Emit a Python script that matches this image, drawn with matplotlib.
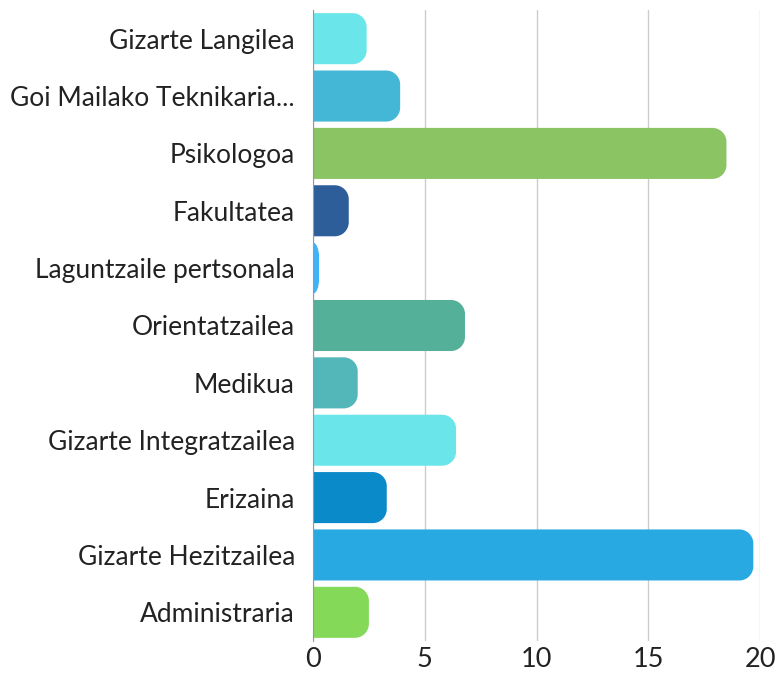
import matplotlib.pyplot as plt
from matplotlib.path import Path
from matplotlib.patches import PathPatch

labels = ["Gizarte Langilea", "Goi Mailako Teknikaria...", "Psikologoa", "Fakultatea",
          "Laguntzaile pertsonala", "Orientatzailea", "Medikua", "Gizarte Integratzailea",
          "Erizaina", "Gizarte Hezitzailea", "Administraria"]
values = [2.4, 3.9, 18.5, 1.6, 0.27, 6.8, 2.0, 6.4, 3.3, 19.7, 2.5]
colors = ["#6ae6ea", "#44b7d6", "#8bc462", "#2e5e9a", "#3fb3f7", "#55b09a",
          "#53b6b8", "#6ae5ea", "#0a8ac8", "#29a9e1", "#84d958"]

plt.rcParams['font.family'] = ['Lato', 'DejaVu Sans']

W, H = 777, 675
fig = plt.figure(figsize=(W / 100, H / 100), dpi=100)
left, right, top, bottom = 313, 760, 10, 641
ax = fig.add_axes([left / W, 1 - bottom / H, (right - left) / W, (bottom - top) / H])
ax.set_xlim(0, 20)
ax.set_ylim(len(labels) - 0.5, -0.5)

# pixels per data unit, for round corners
px_x = (right - left) / 20
px_y = (bottom - top) / len(labels)
r_px = 14
bh = 0.89


def right_rounded_bar(y, w, color):
    y0, y1 = y - bh / 2, y + bh / 2
    rx = min(r_px / px_x, w)
    ry = min(r_px / px_y, bh / 2)
    k = 0.55
    verts = [(0, y0), (w - rx, y0),
             (w - rx + k * rx, y0), (w, y0 + ry - k * ry), (w, y0 + ry),
             (w, y1 - ry),
             (w, y1 - ry + k * ry), (w - rx + k * rx, y1), (w - rx, y1),
             (0, y1), (0, y0)]
    codes = [Path.MOVETO, Path.LINETO,
             Path.CURVE4, Path.CURVE4, Path.CURVE4,
             Path.LINETO,
             Path.CURVE4, Path.CURVE4, Path.CURVE4,
             Path.LINETO, Path.CLOSEPOLY]
    ax.add_patch(PathPatch(Path(verts, codes), facecolor=color, edgecolor='none', zorder=3))


for i, (v, c) in enumerate(zip(values, colors)):
    right_rounded_bar(i, v, c)

ax.set_yticks(range(len(labels)))
ax.set_yticklabels(labels, fontsize=19, color='#222222')
ax.set_xticks([0, 5, 10, 15, 20])
ax.tick_params(axis='x', labelsize=19.5, length=0, pad=4, colors='#222222')
ax.tick_params(axis='y', length=0, pad=13)
ax.grid(axis='x', color='#cccccc', linewidth=1, zorder=0)
for s in ['top', 'right', 'bottom']:
    ax.spines[s].set_visible(False)
ax.spines['left'].set_color('#999999')
ax.spines['left'].set_zorder(4)

fig.savefig('out.png', dpi=100)
